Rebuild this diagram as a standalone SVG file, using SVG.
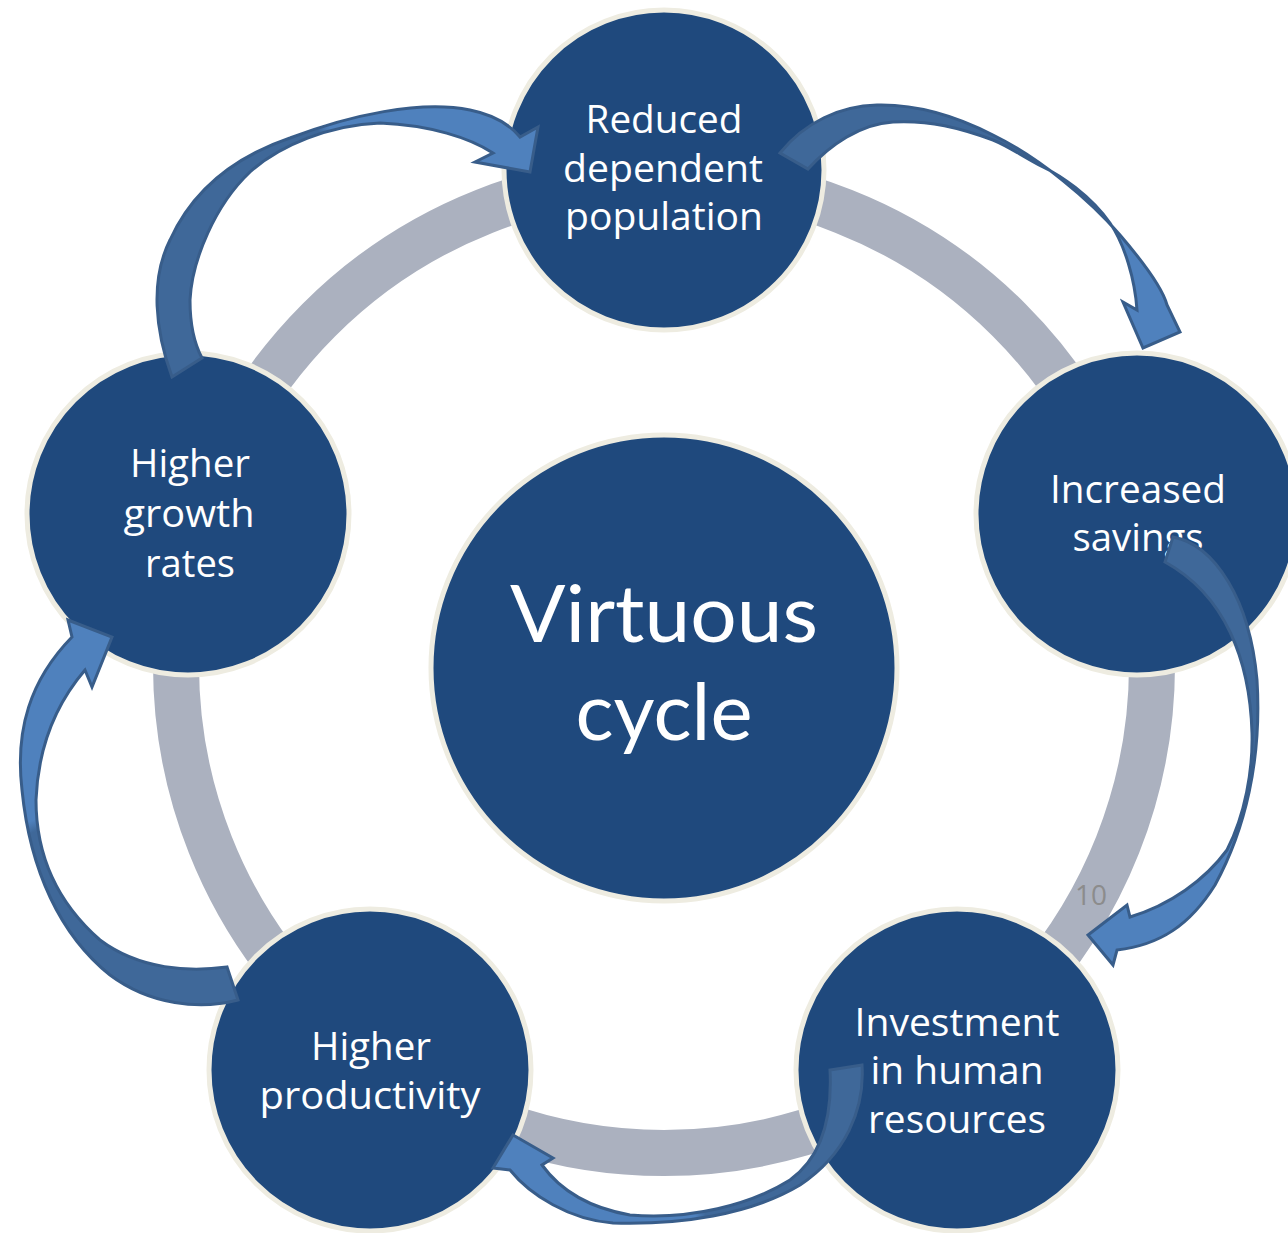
<svg xmlns="http://www.w3.org/2000/svg" width="1288" height="1233" viewBox="0 0 1288 1233">
<style>
.node{fill:#1f497d;stroke:#eeece1;stroke-width:5}
.lbl{font-family:"Open Sans","Liberation Sans",sans-serif;font-size:39px;fill:#ffffff;text-anchor:middle}
.big{font-family:Lato,"Open Sans","Liberation Sans",sans-serif;font-size:80px;fill:#ffffff;text-anchor:middle}
.arrow{stroke:#385d8a;stroke-width:3;stroke-linejoin:miter}
</style>
<defs>
<linearGradient id="g1" gradientUnits="userSpaceOnUse" x1="794" y1="161" x2="1150" y2="330"><stop offset="0" stop-color="#3f6899"/><stop offset="0.6" stop-color="#3f6899"/><stop offset="0.63" stop-color="#4f81bd"/><stop offset="1" stop-color="#4f81bd"/></linearGradient>
<linearGradient id="g2" gradientUnits="userSpaceOnUse" x1="1169" y1="549" x2="1100" y2="940"><stop offset="0" stop-color="#3f6899"/><stop offset="0.58" stop-color="#3f6899"/><stop offset="0.61" stop-color="#4f81bd"/><stop offset="1" stop-color="#4f81bd"/></linearGradient>
<linearGradient id="g3" gradientUnits="userSpaceOnUse" x1="846" y1="1068" x2="513" y2="1150"><stop offset="0" stop-color="#3f6899"/><stop offset="0.5" stop-color="#3f6899"/><stop offset="0.53" stop-color="#4f81bd"/><stop offset="1" stop-color="#4f81bd"/></linearGradient>
<linearGradient id="g4" gradientUnits="userSpaceOnUse" x1="232" y1="983" x2="90" y2="640"><stop offset="0" stop-color="#3f6899"/><stop offset="0.58" stop-color="#3f6899"/><stop offset="0.61" stop-color="#4f81bd"/><stop offset="1" stop-color="#4f81bd"/></linearGradient>
<linearGradient id="g5" gradientUnits="userSpaceOnUse" x1="187" y1="367" x2="520" y2="150"><stop offset="0" stop-color="#3f6899"/><stop offset="0.6" stop-color="#3f6899"/><stop offset="0.63" stop-color="#4f81bd"/><stop offset="1" stop-color="#4f81bd"/></linearGradient>
</defs>
<rect width="1288" height="1233" fill="#ffffff"/>
<g id="ring">
<circle cx="664" cy="665" r="488" fill="none" stroke="#abb1bf" stroke-width="46"/>
<text x="1091" y="905" font-family="Open Sans, Liberation Sans, sans-serif" font-size="28" fill="#8c8c8c" text-anchor="middle">10</text>
</g>
<g id="center">
<circle class="node" cx="664" cy="668" r="233"/>
<text class="big" x="664" y="642" textLength="308" lengthAdjust="spacingAndGlyphs">Virtuous</text>
<text class="big" x="664" y="740" textLength="177" lengthAdjust="spacingAndGlyphs">cycle</text>
</g>
<g id="node-top">
<circle class="node" cx="664" cy="170" r="160"/>
<text class="lbl" x="664" y="133" textLength="157" lengthAdjust="spacingAndGlyphs">Reduced</text>
<text class="lbl" x="663" y="182" textLength="200" lengthAdjust="spacingAndGlyphs">dependent</text>
<text class="lbl" x="664" y="230" textLength="198" lengthAdjust="spacingAndGlyphs">population</text>
</g>
<g id="node-right">
<circle class="node" cx="1137" cy="514" r="161"/>
<text class="lbl" x="1138" y="503" textLength="176" lengthAdjust="spacingAndGlyphs">Increased</text>
<text class="lbl" x="1138" y="551" textLength="131" lengthAdjust="spacingAndGlyphs">savings</text>
</g>
<g id="node-bottom-right">
<circle class="node" cx="957" cy="1070" r="161"/>
<text class="lbl" x="957" y="1036" textLength="205" lengthAdjust="spacingAndGlyphs">Investment</text>
<text class="lbl" x="957" y="1084" textLength="173" lengthAdjust="spacingAndGlyphs">in human</text>
<text class="lbl" x="957" y="1133" textLength="178" lengthAdjust="spacingAndGlyphs">resources</text>
</g>
<g id="node-bottom-left">
<circle class="node" cx="370" cy="1070" r="161"/>
<text class="lbl" x="371" y="1060" textLength="120" lengthAdjust="spacingAndGlyphs">Higher</text>
<text class="lbl" x="370" y="1109" textLength="221" lengthAdjust="spacingAndGlyphs">productivity</text>
</g>
<g id="node-left">
<circle class="node" cx="188" cy="514" r="161"/>
<text class="lbl" x="190" y="477" textLength="120" lengthAdjust="spacingAndGlyphs">Higher</text>
<text class="lbl" x="189" y="527" textLength="131" lengthAdjust="spacingAndGlyphs">growth</text>
<text class="lbl" x="190" y="577" textLength="90" lengthAdjust="spacingAndGlyphs">rates</text>
</g>
<g id="connectors">
<path class="arrow" fill="url(#g1)" d="M780,153 C805,122 840,106 877,105 C920,104 960,118 993,135 C1040,158 1090,200 1120,235 C1150,270 1163,290 1167,305 L1180,332 L1143,348 L1123,302 L1137,310 C1135,280 1125,245 1110,223 C1090,195 1060,175 1043,167 C1020,155 1010,147 993,140 C960,128 930,120 893,122 C860,124 830,145 808,169 Z"/>
<path class="arrow" fill="url(#g2)" d="M1173,537 C1215,545 1250,600 1257,680 C1262,760 1245,830 1215,885 C1190,925 1160,945 1117,950 L1113,965 L1088,935 L1127,905 L1130,917 C1170,905 1205,880 1227,850 C1245,815 1253,770 1252,733 C1250,660 1225,595 1165,562 Z"/>
<path class="arrow" fill="url(#g3)" d="M862,1065 C865,1110 845,1155 800,1185 C750,1215 680,1225 613,1223 C570,1220 530,1195 510,1170 L493,1168 L513,1135 L553,1158 L542,1165 C560,1190 590,1208 630,1215 C690,1220 750,1205 790,1180 C825,1155 832,1110 830,1070 Z"/>
<path class="arrow" fill="url(#g4)" d="M238,1000 C200,1010 150,1005 110,975 C60,935 30,870 22,790 C15,730 30,680 72,637 L68,620 L112,637 L92,687 L85,670 C55,705 38,750 36,800 C36,860 60,905 100,940 C140,970 190,972 227,967 Z"/>
<path class="arrow" fill="url(#g5)" d="M172,377 C155,330 150,280 170,240 C195,185 240,155 290,138 C350,115 420,100 470,110 C495,115 510,125 520,137 L538,127 L530,172 L475,162 L493,153 C470,138 430,125 380,123 C330,125 280,145 250,172 C215,205 192,260 190,300 C190,325 195,345 202,358 Z"/>
</g>
</svg>
